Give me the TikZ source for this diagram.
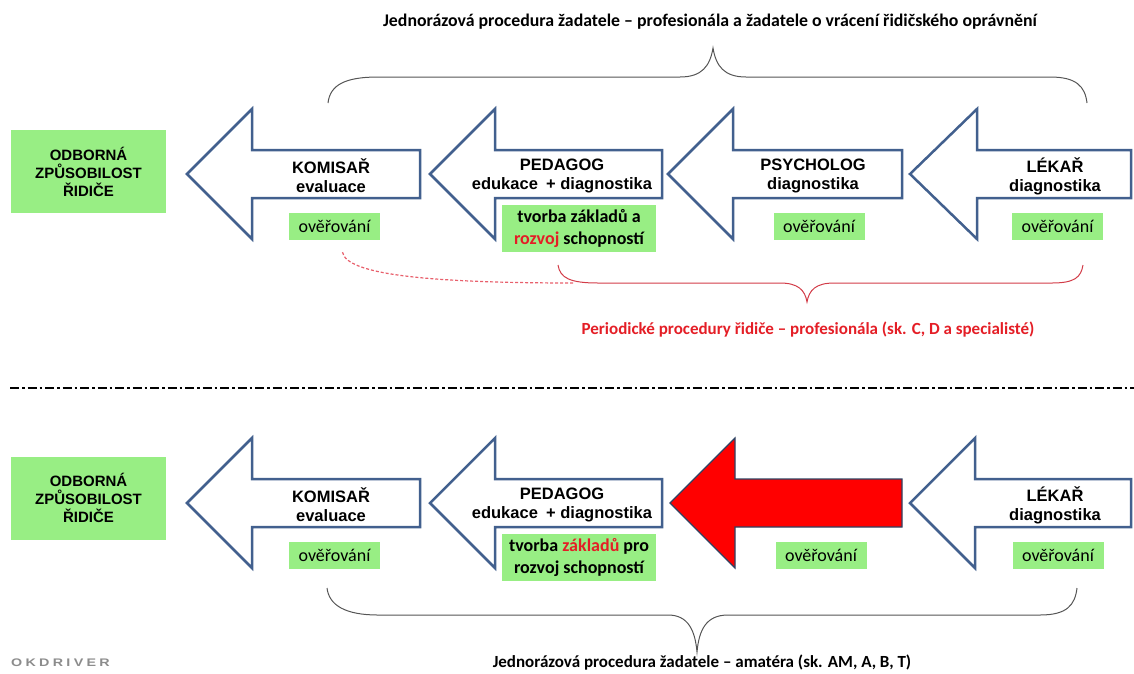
\documentclass[tikz,border=0pt]{standalone}
\usepackage{fontspec}
\setmainfont{Carlito}
\newfontfamily\arialfont{Liberation Sans}
\newfontfamily\logofont{Liberation Sans}[LetterSpace=30,FakeStretch=1.3]
\usetikzlibrary{positioning}

\definecolor{arrowblue}{RGB}{66,96,142}
\definecolor{boxgreen}{RGB}{152,238,132}
\definecolor{rtext}{RGB}{228,30,38}
\definecolor{rline}{RGB}{210,60,72}
\definecolor{rdashc}{RGB}{232,96,108}
\definecolor{bracegray}{RGB}{85,85,85}

% tip x, head base x, right end x, middle y
\newcommand{\procarrow}[5][]{%
  \draw[procline,#1] (#2,#5) -- (#3,#5-65) -- (#3,#5-24) -- (#4,#5-24)
    -- (#4,#5+24) -- (#3,#5+24) -- (#3,#5+65) -- cycle;}

\tikzset{
  procline/.style={draw=arrowblue,line width=2.5pt,fill=white,line join=miter},
  hotline/.style={fill=red,draw=arrowblue!70!black,line width=1.2pt},
  greenbox/.style={fill=boxgreen,inner sep=0pt,align=center},
  goalbox/.style={greenbox,minimum width=155pt,minimum height=83pt,
    font=\arialfont\bfseries\fontsize{15}{18}\selectfont},
  role/.style={align=center,inner sep=0pt,
    font=\arialfont\bfseries\fontsize{16.5}{19}\selectfont},
  check/.style={greenbox,minimum width=91pt,minimum height=27pt,
    font=\fontsize{18}{21}\selectfont},
  skillbox/.style={greenbox,minimum width=154pt,minimum height=47pt,
    font=\bfseries\fontsize{18}{21.5}\selectfont},
  captext/.style={font=\bfseries\fontsize{17}{20}\selectfont,inner sep=0pt},
  brace/.style={draw=bracegray,line width=1pt},
}

\begin{document}
\begin{tikzpicture}[x=1pt,y=-1pt]
\useasboundingbox (0,0) rectangle (1134,673);

\node[captext,font=\bfseries\fontsize{17.8}{20}\selectfont] (top) at (710,22) {Jednorázová procedura žadatele – profesionála a žadatele o vrácení řidičského oprávnění};
\draw[brace] (328,103) .. controls (330,85) and (345,77) .. (378,77) -- (680,77)
  .. controls (702,77) and (710,66) .. (713,48) .. controls (716,66) and (724,77) .. (746,77)
  -- (1050,77) .. controls (1076,77) and (1085,86) .. (1087,103);

% professional
\node[goalbox] (g1) at (88.5,171.5) {ODBORNÁ\\ZPŮSOBILOST\\ŘIDIČE};
\procarrow{187}{252}{420}{174}
\procarrow{430}{495}{662}{174}
\procarrow{668}{733}{902}{174}
\procarrow{910}{977}{1131}{174}
\node[role] (k1) at (331,176) {KOMISAŘ\\evaluace};
\node[role] (p1) at (562,176) {PEDAGOG\\edukace\enspace+ diagnostika};
\node[role] (s1) at (813,176) {PSYCHOLOG\\diagnostika};
\node[role] (l1) at (1055,176) {LÉKAŘ\\diagnostika};
\node[check] (ck1) at (334.5,226.5) {ověřování};
\node[skillbox] (sk1) at (579,228.5) {tvorba základů a\\\textcolor{rtext}{rozvoj} schopností};
\node[check] (cs1) at (819,226.5) {ověřování};
\node[check] (cl1) at (1057.5,226.5) {ověřování};

\coordinate (rj) at (575,283);
\draw[rdashc,line width=1.2pt,dash pattern=on 3pt off 2pt] ([shift={(8,12)}]ck1.south)
  .. controls +(4,22) and +(-150,0) .. (rj);
\draw[rline,line width=1pt] (558,265) .. controls (560,278) and (570,283) .. (598,283) -- (780,283)
  .. controls (798,283) and (805,290) .. (807,302) .. controls (809,290) and (816,283) .. (834,283)
  -- (1052,283) .. controls (1075,283) and (1081,277) .. (1083,265);
\node[captext,text=rtext] (per) at (808,330) {Periodické procedury řidiče – profesionála (sk. C, D a specialisté)};

\draw[line width=1.5pt,dash pattern=on 9pt off 3pt on 2.5pt off 3pt] (10,388) -- (1134,388);

% amateur
\node[goalbox] (g2) at (88.5,498) {ODBORNÁ\\ZPŮSOBILOST\\ŘIDIČE};
\procarrow{187}{252}{420}{503}
\procarrow{430}{495}{662}{503}
\procarrow[hotline]{670}{735}{902}{503}
\procarrow{910}{975}{1131}{503}
\node[role] (k2) at (331,505) {KOMISAŘ\\evaluace};
\node[role] (p2) at (562,505) {PEDAGOG\\edukace\enspace+ diagnostika};
\node[role] (l2) at (1055,505) {LÉKAŘ\\diagnostika};
\node[check] (ck2) at (334.5,555) {ověřování};
\node[skillbox] (sk2) at (579,557.5) {tvorba \textcolor{rtext}{základů} pro\\rozvoj schopností};
\node[check] (cs2) at (821,555) {ověřování};
\node[check] (cl2) at (1058,555) {ověřování};

\draw[brace] (327,588) .. controls (329,605) and (345,615) .. (378,615) -- (668,615)
  .. controls (688,615) and (695,630) .. (697,652) .. controls (699,630) and (706,615) .. (728,615)
  -- (1040,615) .. controls (1067,615) and (1075,605) .. (1077,588);
\node[captext] (bot) at (702,663) {Jednorázová procedura žadatele – amatéra (sk. AM, A, B, T)};

\node[font=\logofont\bfseries\fontsize{11}{13}\selectfont,text=black!45,anchor=west,inner sep=0pt]
  (logo) at (11,663) {OKDRIVER};
\end{tikzpicture}
\end{document}
